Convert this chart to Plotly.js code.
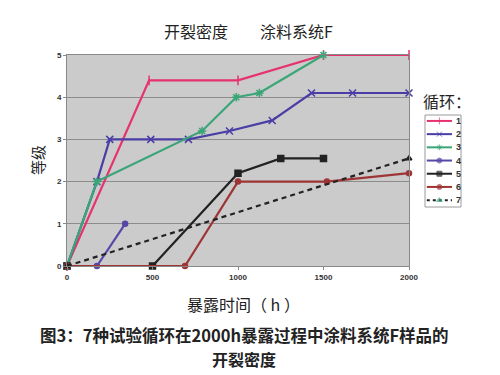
<!DOCTYPE html>
<html><head><meta charset="utf-8">
<script src="https://cdn.plot.ly/plotly-3.0.1.min.js"></script>
<style>html,body{margin:0;padding:0;background:#fff}#c{width:500px;height:375px}</style>
</head><body><div id="c"></div>
<script>
const names = ['1','2','3','4','5','6','7'];
const x1 = [0, 480, 1000, 1500, 2000];
const y1 = [0, 4.4, 4.4, 5, 5];
const x2 = [0, 175, 250, 490, 710, 950, 1200, 1430, 1670, 2000];
const y2 = [0, 2, 3, 3, 3, 3.2, 3.45, 4.1, 4.1, 4.1];
const x3 = [0, 175, 790, 990, 1125, 1500];
const y3 = [0, 2, 3.2, 4, 4.1, 5];
const x4 = [0, 175, 340];
const y4 = [0, 0, 1];
const x5 = [0, 500, 1000, 1250, 1500];
const y5 = [0, 0, 2.2, 2.55, 2.55];
const x6 = [0, 690, 1000, 1520, 2000];
const y6 = [0, 0, 2, 2, 2.2];
const x7 = [0, 2000];
const y7 = [0, 2.55];
const xTicks = [0, 500, 1000, 1500, 2000];
const yTicks = [0, 1, 2, 3, 4, 5];

const colors = ['#e6336e', '#4a3ea6', '#3aa577', '#5548a8', '#222222', '#9e3535', '#222222'];
const legendMarkerColors = ['#e6336e', '#4a3ea6', '#3aa577', '#5548a8', '#222222', '#9e3535', '#3aa577'];
const symbols = ['line-ns-open', 'x-thin-open', 'asterisk-open', 'circle', 'square', 'circle', 'triangle-up'];
const sizes = [7, 7, 7, 5, 6, 5, 5];
const xs = [x1, x2, x3, x4, x5, x6, x7];
const ys = [y1, y2, y3, y4, y5, y6, y7];

const traces = names.map((n, i) => ({
  x: xs[i], y: ys[i], name: n, type: 'scatter', mode: 'lines+markers',
  showlegend: false,
  line: {color: colors[i], width: 2.2, dash: i === 6 ? '5px,4px' : 'solid'},
  marker: {symbol: symbols[i], size: sizes[i], color: colors[i],
           line: {color: colors[i], width: 1.5}},
  cliponaxis: false
}));

// compact legend drawn on a hidden helper axis
const legendTraces = names.map((n, i) => ({
  x: [0.05, 0.4, 0.75], y: [i + 1, i + 1, i + 1], type: 'scatter', mode: 'lines+markers',
  xaxis: 'x2', yaxis: 'y2', showlegend: false, hoverinfo: 'skip',
  line: {color: colors[i], width: 2, dash: i === 6 ? '3px,3px' : 'solid'},
  marker: {symbol: symbols[i], size: [0, 5, 0], color: legendMarkerColors[i],
           line: {color: legendMarkerColors[i], width: 1}}
}));
const legendLabels = names.map((n, i) => ({
  text: '<b>' + n + '</b>', xref: 'x2', yref: 'y2', x: 0.8, y: i + 1,
  xanchor: 'left', yanchor: 'middle',
  showarrow: false, font: {family: 'Arial, sans-serif', size: 9, color: '#333'}
}));

const cjk = '"Noto Sans CJK SC", sans-serif';
const L = 67, T = 55, H = 211, R = 35;
const FW = 500 - L - R;           // full paper width in px
const plotRight = 409;            // right edge of main plot
const px = x => (x - L) / FW;
const py = y => (T + H - y) / H;

function note(text, x, y, size, extra) {
  return Object.assign({text: text, xref: 'paper', yref: 'paper', x: px(x), y: py(y),
    xanchor: 'center', yanchor: 'middle', showarrow: false,
    font: {family: cjk, size: size, color: '#222'}}, extra || {});
}

const layout = {
  width: 500, height: 375,
  margin: {l: L, r: R, t: T, b: 375 - T - H},
  paper_bgcolor: '#ffffff', plot_bgcolor: 'rgba(0,0,0,0)',
  showlegend: false,
  xaxis: {domain: [0, px(plotRight)], range: [0, 2000], tickvals: xTicks, ticks: 'outside', ticklen: 3,
          tickcolor: '#888', showgrid: false, zeroline: false,
          showline: true, linecolor: '#888', mirror: true,
          tickfont: {family: 'Arial, sans-serif', size: 8, color: '#333', weight: 'bold'}},
  yaxis: {range: [0, 5], tickvals: yTicks, ticks: 'outside', ticklen: 3,
          tickcolor: '#888', showgrid: true, gridcolor: '#8c8c8c', gridwidth: 1,
          zeroline: false, showline: true, linecolor: '#888', mirror: true,
          tickfont: {family: 'Arial, sans-serif', size: 8, color: '#333', weight: 'bold'}},
  xaxis2: {domain: [px(425), px(461)], range: [0, 1], visible: false, anchor: 'y2', fixedrange: true},
  yaxis2: {domain: [py(207), py(115)], range: [7.52, 0.55], visible: false, anchor: 'x2', fixedrange: true},
  shapes: [
    {type: 'rect', xref: 'paper', yref: 'paper', x0: 0, x1: px(plotRight), y0: 0, y1: 1,
     line: {width: 0}, fillcolor: '#cbcbcb', layer: 'below'},
    {type: 'rect', xref: 'paper', yref: 'paper', x0: px(425), x1: px(461), y0: py(207), y1: py(115),
     line: {color: '#9a9a9a', width: 1}, fillcolor: 'rgba(0,0,0,0)', layer: 'above'}
  ],
  annotations: [
    note('开裂密度　　涂料系统F', 248, 31, 16),
    note('等级', 37, 160, 15, {textangle: -90}),
    note('暴露时间（ h ）', 243, 304, 16),
    note('循环：', 421, 101, 16, {xanchor: 'left'}),
    note('<b>图3：7种试验循环在2000h暴露过程中涂料系统F样品的</b>', 244, 335, 16.5),
    note('<b>开裂密度</b>', 244, 359, 16)
  ].concat(legendLabels)
};
Plotly.newPlot('c', traces.concat(legendTraces), layout, {staticPlot: true});
</script></body></html>
